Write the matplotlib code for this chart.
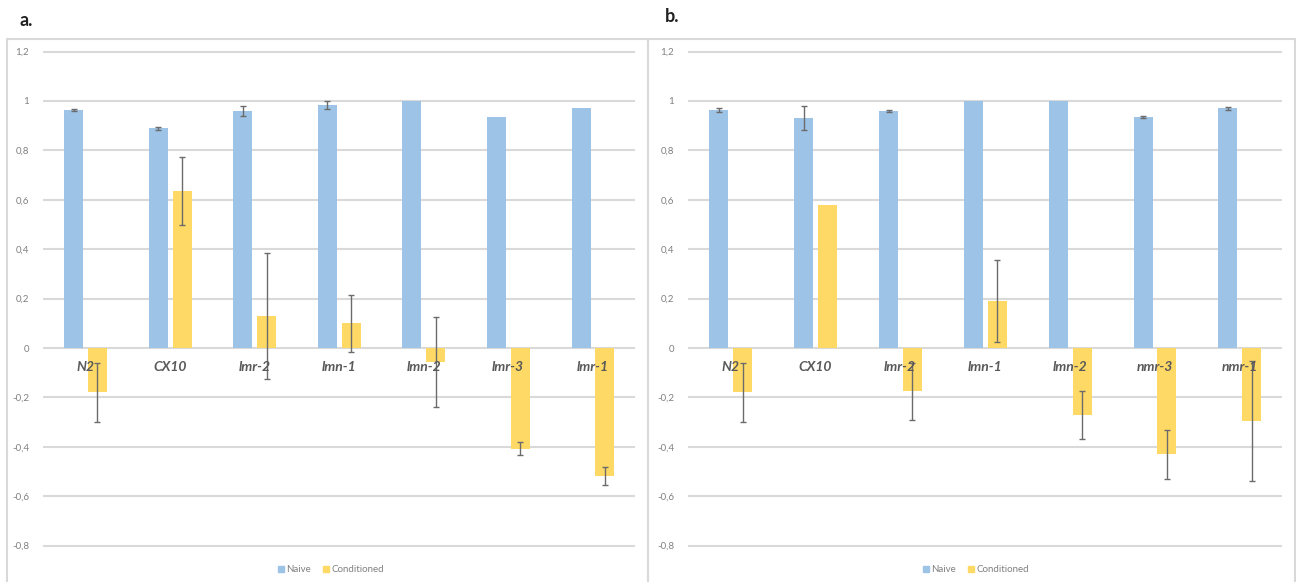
import matplotlib
matplotlib.use("Agg")
import matplotlib.pyplot as plt
import matplotlib.patches as mpatches
import numpy as np

# panel a
strains_a = ["N2", "CX10", "lmr-2", "lmn-1", "lmn-2", "lmr-3", "lmr-1"]
naive_a = [0.963, 0.890, 0.960, 0.982, 1.000, 0.935, 0.970]
naive_err_a = [0.004, 0.006, 0.020, 0.016, 0.0, 0.0, 0.0]
cond_a = [-0.180, 0.635, 0.130, 0.100, -0.055, -0.407, -0.517]
cond_err_a = [0.120, 0.138, 0.255, 0.115, 0.182, 0.026, 0.037]

# panel b
strains_b = ["N2", "CX10", "lmr-2", "lmn-1", "lmn-2", "nmr-3", "nmr-1"]
naive_b = [0.965, 0.930, 0.960, 1.000, 1.000, 0.935, 0.970]
naive_err_b = [0.008, 0.048, 0.003, 0.0, 0.0, 0.005, 0.007]
cond_b = [-0.180, 0.580, -0.175, 0.190, -0.270, -0.430, -0.295]
cond_err_b = [0.120, 0.0, 0.115, 0.167, 0.097, 0.100, 0.244]

yticks = [-0.8, -0.6, -0.4, -0.2, 0, 0.2, 0.4, 0.6, 0.8, 1, 1.2]

BLUE = "#9dc3e6"
YELLOW = "#ffd966"
GRID = "#d9d9d9"
ERR = "#6b6b6b"
FONT = ["Lato", "DejaVu Sans"]

W, H = 1296, 582
fig = plt.figure(figsize=(W / 100, H / 100), dpi=100)
fig.patch.set_facecolor("white")

# panel frames
for x0, x1 in [(7, 648), (648, 1295)]:
    fig.patches.append(mpatches.Rectangle((x0 / W, -0.1), (x1 - x0) / W, 1.1 - 39 / H,
                                          transform=fig.transFigure, fill=False,
                                          edgecolor="#d9d9d9", linewidth=1.5))

fig.text(20 / W, 1 - 20 / H, "a.", fontsize=13, fontweight="bold", family=FONT,
         va="center", ha="left", color="#222222")
fig.text(665 / W, 1 - 17 / H, "b.", fontsize=13, fontweight="bold", family=FONT,
         va="center", ha="left", color="#222222")

ymin, ymax = -0.81, 1.21
px_per_unit = (546 - 52) / 2.0


def yfrac(v):
    return 1 - (348 - v * px_per_unit) / H


def draw_err(ax, xs, vals, errs):
    xs = np.asarray(xs)
    vals = np.asarray(vals)
    errs = np.asarray(errs)
    keep = errs > 0
    ax.errorbar(xs[keep], vals[keep], yerr=errs[keep], fmt="none", zorder=3,
                ecolor=ERR, elinewidth=1, capsize=2.5, capthick=1)


def panel(left_px, right_px, strains, naive, naive_err, cond, cond_err, legend_x):
    ax = fig.add_axes([left_px / W, yfrac(ymin), (right_px - left_px) / W,
                       yfrac(ymax) - yfrac(ymin)])
    x = np.arange(len(strains))
    w = 0.225
    ax.bar(x - 0.137, naive, w, color=BLUE, zorder=2)
    draw_err(ax, x - 0.137, naive, naive_err)
    ax.bar(x + 0.144, cond, w, color=YELLOW, zorder=2)
    draw_err(ax, x + 0.144, cond, cond_err)

    for t in yticks:
        ax.axhline(t, color=GRID, linewidth=1.5, zorder=1)
    ax.set_xlim(-0.5, len(strains) - 0.5)
    ax.set_ylim(ymin, ymax)
    ax.set_yticks(yticks)
    ax.set_yticklabels([("%g" % t).replace(".", ",") for t in yticks],
                       fontsize=7, color="#808080", family=FONT)
    ax.tick_params(axis="y", length=0, pad=10)
    ax.set_xticks([])
    for s in ax.spines.values():
        s.set_visible(False)
    ax.patch.set_alpha(0)

    for i, name in enumerate(strains):
        ax.annotate(name, (i, 0), xytext=(0, -14), textcoords="offset points",
                    ha="center", va="center", fontsize=10, fontweight="bold",
                    fontstyle="italic", color="#595959", family=FONT, zorder=4)

    handles = [mpatches.Patch(color=BLUE, label="Naive"),
               mpatches.Patch(color=YELLOW, label="Conditioned")]
    fig.legend(handles=handles, loc="center", bbox_to_anchor=(legend_x / W, 1 - 570 / H),
               ncol=2, frameon=False, prop={"family": FONT, "size": 7},
               handlelength=0.6, handleheight=0.6, handletextpad=0.3,
               columnspacing=1.2, labelcolor="#808080")
    return ax


panel(43, 635, strains_a, naive_a, naive_err_a, cond_a, cond_err_a, 331)
panel(688, 1282, strains_b, naive_b, naive_err_b, cond_b, cond_err_b, 976)

fig.savefig("out.png", dpi=100, facecolor="white")
